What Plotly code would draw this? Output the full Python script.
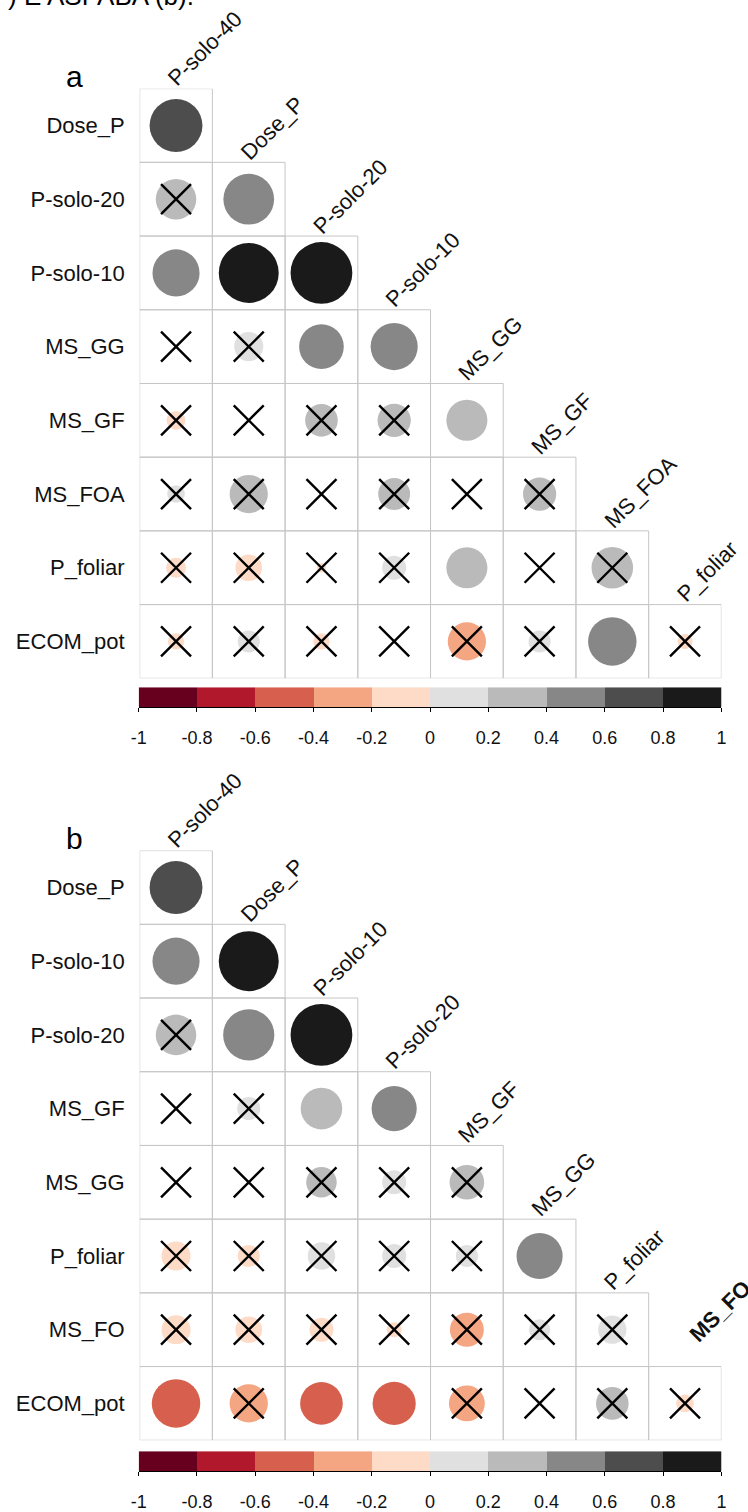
import numpy as np
import plotly.graph_objects as go

# ---------------------------------------------------------------------------
# Data: lower-triangle Pearson correlations (row i vs. columns 1..i)
# ---------------------------------------------------------------------------
vars_a = ["P-solo-40", "Dose_P", "P-solo-20", "P-solo-10", "MS_GG",
          "MS_GF", "MS_FOA", "P_foliar", "ECOM_pot"]
r_a = [
    [0.63],
    [0.37, 0.58],
    [0.50, 0.81, 0.86],
    [0.004, 0.19, 0.45, 0.50],
    [-0.08, 0.004, 0.24, 0.25, 0.38],
    [0.07, 0.33, 0.004, 0.23, 0.004, 0.25],
    [-0.09, -0.16, -0.02, 0.13, 0.38, 0.004, 0.39],
    [-0.06, 0.11, -0.06, 0.005, -0.33, 0.11, 0.53, -0.05],
]
# 1 = not significant (crossed out)
ns_a = [
    [0],
    [1, 0],
    [0, 0, 0],
    [1, 1, 0, 0],
    [1, 1, 1, 1, 0],
    [1, 1, 1, 1, 1, 1],
    [1, 1, 1, 1, 0, 1, 1],
    [1, 1, 1, 1, 1, 1, 0, 1],
]

vars_b = ["P-solo-40", "Dose_P", "P-solo-10", "P-solo-20", "MS_GF",
          "MS_GG", "P_foliar", "MS_FO", "ECOM_pot"]
r_b = [
    [0.63],
    [0.50, 0.81],
    [0.37, 0.59, 0.86],
    [0.004, 0.12, 0.39, 0.46],
    [0.004, 0.004, 0.21, 0.13, 0.27],
    [-0.19, -0.11, 0.17, 0.13, 0.11, 0.48],
    [-0.19, -0.16, -0.13, -0.05, -0.26, 0.10, 0.18],
    [-0.53, -0.33, -0.41, -0.42, -0.29, 0.004, 0.24, -0.07],
]
ns_b = [
    [0],
    [0, 0],
    [1, 0, 0],
    [1, 1, 0, 0],
    [1, 1, 1, 1, 1],
    [1, 1, 1, 1, 1, 0],
    [1, 1, 1, 1, 1, 1, 1],
    [0, 1, 0, 0, 1, 1, 1, 1],
]

# Colour legend breaks and RdGy palette (10 classes)
breaks = [-1.0, -0.8, -0.6, -0.4, -0.2, 0.0, 0.2, 0.4, 0.6, 0.8, 1.0]
break_labels = ["-1", "-0.8", "-0.6", "-0.4", "-0.2", "0", "0.2", "0.4", "0.6", "0.8", "1"]
palette = ["#67001F", "#B2182B", "#D6604D", "#F4A582", "#FDDBC7",
           "#E0E0E0", "#BABABA", "#878787", "#4D4D4D", "#1A1A1A"]

# ---------------------------------------------------------------------------
# Layout geometry (pixels)
# ---------------------------------------------------------------------------
W, H = 748, 1512
GRID_L, GRID_R = 134, 726
N = 8
CELL = (GRID_R - GRID_L) / N
PANEL_TOP = {"a": 89, "b": 854}
BAR_TOP = {"a": 690, "b": 1457}
BAR_H = 20
FONT = "Liberation Sans, Arial, sans-serif"
GRID_COL = "#C6C6C6"
TXT_COL = "#111111"

# the last column label of panel b sits a little higher, in bold
LABEL_TWEAK = {("b", 8): dict(xshift=-4, yshift=17, bold=True)}


def px_x(p):
    return p / W


def px_y(p):
    return 1 - p / H


# stepped colour scale
cscale = []
for k, c in enumerate(palette):
    cscale.append([k / len(palette), c])
    cscale.append([(k + 1) / len(palette), c])

fig = go.Figure()
shapes = []
annotations = []

panels = [("a", vars_a, r_a, ns_a, "", "3"), ("b", vars_b, r_b, ns_b, "2", "4")]

for name, labels, rvals, nsvals, ax, lax in panels:
    xs, ys, vals, sizes, cx, cy = [], [], [], [], [], []
    for i, row in enumerate(rvals, start=1):
        for j, v in enumerate(row, start=1):
            xs.append(j)
            ys.append(i)
            vals.append(v)
            sizes.append(0.9 * np.sqrt(abs(v)) * CELL)
            if nsvals[i - 1][j - 1]:
                cx.append(j)
                cy.append(i)
            # cell border
            shapes.append(dict(type="rect", xref="x" + ax, yref="y" + ax,
                               x0=j - 0.5, x1=j + 0.5, y0=i - 0.5, y1=i + 0.5,
                               line=dict(color=GRID_COL, width=1), layer="below"))

    fig.add_trace(go.Scatter(
        x=xs, y=ys, mode="markers", xaxis="x" + ax, yaxis="y" + ax,
        marker=dict(size=sizes, color=vals, coloraxis="coloraxis", opacity=1,
                    symbol="circle", line=dict(width=0)),
        hoverinfo="skip", showlegend=False))
    fig.add_trace(go.Scatter(
        x=cx, y=cy, mode="markers", xaxis="x" + ax, yaxis="y" + ax,
        marker=dict(size=30, symbol="x-thin", color="black", opacity=1,
                    line=dict(width=2.4, color="black")),
        hoverinfo="skip", showlegend=False))

    # colour legend bar
    mids = [(breaks[k] + breaks[k + 1]) / 2 for k in range(len(breaks) - 1)]
    fig.add_trace(go.Heatmap(
        z=[mids], x=breaks, y=[0, 1], coloraxis="coloraxis",
        xaxis="x" + lax, yaxis="y" + lax, hoverinfo="skip"))

    top = PANEL_TOP[name]
    dom_x = [px_x(GRID_L), px_x(GRID_R)]
    dom_y = [px_y(top + N * CELL), px_y(top)]
    xa = "xaxis" + ax
    ya = "yaxis" + ax
    fig.update_layout({
        xa: dict(domain=dom_x, range=[0.5, N + 0.5], anchor="y" + ax,
                 showgrid=False, zeroline=False, showticklabels=False,
                 ticks="", showline=False),
        ya: dict(domain=dom_y, range=[N + 0.5, 0.5], anchor="x" + ax,
                 showgrid=False, zeroline=False, ticks="", showline=False,
                 tickmode="array", tickvals=list(range(1, N + 1)),
                 ticktext=labels[1:], ticklabelstandoff=14,
                 tickfont=dict(family=FONT, size=22, color=TXT_COL)),
        "xaxis" + lax: dict(domain=[px_x(133), px_x(726)], range=[-1, 1],
                            anchor="y" + lax, showgrid=False, zeroline=False,
                            tickmode="array", tickvals=breaks, ticktext=break_labels,
                            ticks="outside", ticklen=4, tickcolor="black",
                            showline=True, linecolor="black", linewidth=1,
                            ticklabelstandoff=10,
                            tickfont=dict(family=FONT, size=18, color=TXT_COL)),
        "yaxis" + lax: dict(domain=[px_y(BAR_TOP[name] + BAR_H), px_y(BAR_TOP[name])],
                            range=[0, 1], anchor="x" + lax, visible=False),
    })

    # diagonal column labels
    for j in range(1, N + 1):
        tw = LABEL_TWEAK.get((name, j), {})
        text = labels[j - 1]
        if tw.get("bold"):
            text = "<b>" + text + "</b>"
        annotations.append(dict(
            x=j, y=j - 0.5, xref="x" + ax, yref="y" + ax, text=text,
            textangle=-45, xanchor="left", yanchor="bottom", showarrow=False,
            xshift=tw.get("xshift", -16), yshift=tw.get("yshift", -5),
            font=dict(family=FONT, size=22, color=TXT_COL)))

    # panel letter
    annotations.append(dict(
        x=px_x(68), y=px_y(top - 12), xref="paper", yref="paper", text=name,
        xanchor="center", yanchor="middle", showarrow=False,
        font=dict(family=FONT, size=30, color="black")))

# caption fragment at the very top
annotations.append(dict(
    x=px_x(-2), y=px_y(7), xref="paper", yref="paper", text=") E ASPABA (b).",
    xanchor="left", yanchor="bottom", showarrow=False, yshift=-6,
    font=dict(family=FONT, size=26, color="black")))

fig.update_layout(
    width=W, height=H, margin=dict(l=0, r=0, t=0, b=0),
    paper_bgcolor="white", plot_bgcolor="white",
    coloraxis=dict(colorscale=cscale, cmin=-1, cmax=1, showscale=False),
    shapes=shapes, annotations=annotations, showlegend=False,
)

fig.write_html("out.html")
